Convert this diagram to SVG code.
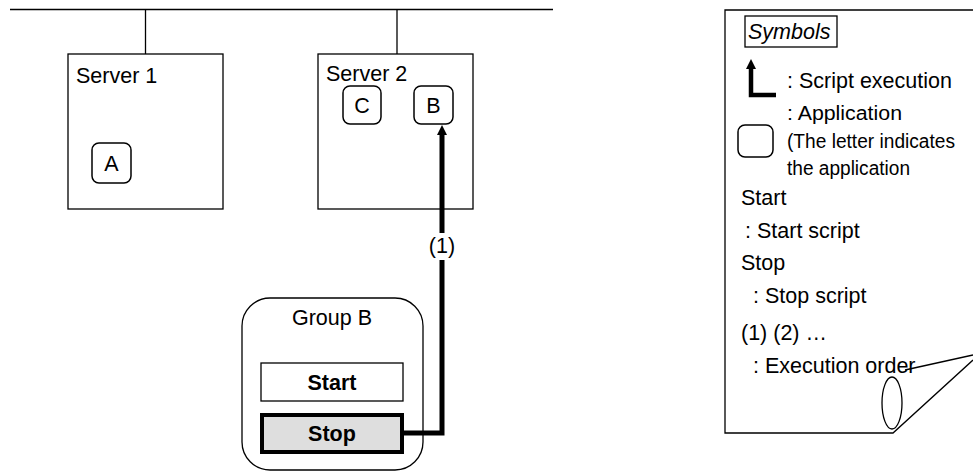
<svg xmlns="http://www.w3.org/2000/svg" width="973" height="473" viewBox="0 0 973 473">
<defs>
<marker id="ah" viewBox="0 0 10 10" refX="1" refY="5" markerWidth="10" markerHeight="10" markerUnits="userSpaceOnUse" orient="auto-start-reverse">
<path d="M0,0 L10,5 L0,10 Z" fill="#000"/>
</marker>
</defs>
<style>
text{font-family:"Liberation Sans",Arial,sans-serif;font-size:21.5px;fill:#000}
.sm{font-size:20px}
.ln{stroke:#000;stroke-width:1.3;fill:none}
.box{stroke:#000;stroke-width:1.3;fill:#fff}
.app{stroke:#000;stroke-width:1.5;fill:#fff}
.thick{stroke:#000;stroke-width:5;fill:none}
.b{font-weight:bold}
.c{text-anchor:middle}
</style>
<rect width="973" height="473" fill="#fff"/>
<g id="network">
<line class="ln" x1="10" y1="9.5" x2="553" y2="9.5"/>
<line class="ln" x1="145.5" y1="9.5" x2="145.5" y2="54"/>
<line class="ln" x1="397" y1="9.5" x2="397" y2="54"/>
</g>
<g id="server1">
<rect class="box" x="68" y="54" width="155" height="155"/>
<text x="76" y="83">Server 1</text>
</g>
<g id="server2">
<rect class="box" x="318" y="54" width="155" height="155"/>
<text x="326" y="81">Server 2</text>
</g>
<g id="appA">
<rect class="app" x="92" y="143" width="39" height="40" rx="7"/>
<text class="c" x="111.5" y="171">A</text>
</g>
<g id="appC">
<rect class="app" x="343" y="86" width="38" height="38" rx="7"/>
<text class="c" x="362" y="113">C</text>
</g>
<g id="appB">
<rect class="app" x="414" y="86" width="39" height="38" rx="7"/>
<text class="c" x="433.5" y="113">B</text>
</g>
<g id="groupB">
<rect class="box" x="242" y="298" width="181" height="172" rx="28"/>
<text class="c" x="332" y="325">Group B</text>
</g>
<g id="start">
<rect class="box" x="261" y="363" width="142" height="38"/>
<text class="c b" x="332" y="390">Start</text>
</g>
<g id="stop">
<rect x="262" y="415" width="140" height="37" fill="#dedede" stroke="#000" stroke-width="4"/>
<text class="c b" x="332" y="441">Stop</text>
</g>
<g id="connectors">
<path class="thick" d="M404,433 H442 V134" marker-end="url(#ah)"/>
<rect x="424" y="233" width="36" height="27" fill="#fff"/>
<text class="c" x="442" y="253">(1)</text>
</g>
<g id="legend">
<path class="ln" d="M973,10 H725 V433 H893 L973,360"/>
<path class="ln" d="M905,370 L973,355"/>
<ellipse class="ln" cx="892" cy="403" rx="10" ry="26"/>
<rect class="box" x="745" y="16" width="92" height="31"/>
<text x="748" y="39" font-style="italic">Symbols</text>
<path stroke="#000" stroke-width="4.5" fill="none" d="M751,68 V95 H776" marker-start="url(#ah)"/>
<text x="787" y="88">: Script execution</text>
<rect class="app" x="738" y="125" width="35" height="32" rx="7"/>
<text class="sm" x="787" y="120" textLength="115" lengthAdjust="spacingAndGlyphs">: Application</text>
<text class="sm" x="787" y="148" textLength="168" lengthAdjust="spacingAndGlyphs">(The letter indicates</text>
<text class="sm" x="787" y="175" textLength="123" lengthAdjust="spacingAndGlyphs">the application</text>
<text x="741" y="205">Start</text>
<text x="745" y="238">: Start script</text>
<text x="741" y="270">Stop</text>
<text x="753" y="303">: Stop script</text>
<text x="741" y="340">(1) (2) …</text>
<text x="753" y="373">: Execution order</text>
</g>
</svg>
